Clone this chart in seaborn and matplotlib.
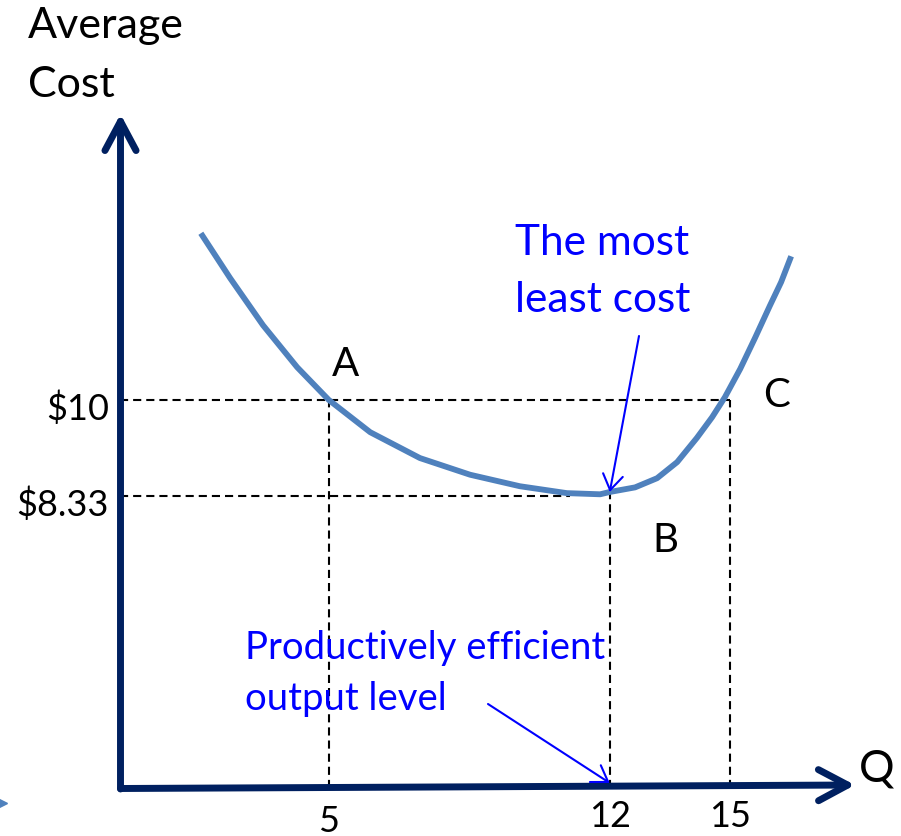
import matplotlib
matplotlib.use("Agg")
import matplotlib.pyplot as plt
import seaborn as sns
import pandas as pd
from matplotlib.transforms import ScaledTranslation

# ---------------- data ----------------
quantity = [1.81, 2.54, 3.36, 4.21, 5.0, 6.03, 7.27, 8.52, 9.76, 10.93, 11.76, 12.0,
            12.63, 13.18, 13.68, 14.17, 14.55, 14.87, 15.25, 15.62, 15.99, 16.27, 16.52]
avg_cost = [12.90, 12.12, 11.30, 10.57, 10.0, 9.44, 8.99, 8.70, 8.50, 8.38, 8.36, 8.40,
            8.48, 8.64, 8.92, 9.34, 9.70, 10.05, 10.54, 11.08, 11.64, 12.05, 12.50]
q_ticks = [5, 12, 15]
q_tick_labels = ["5", "12", "15"]
cost_ticks = [10, 8.33]
cost_tick_labels = [r"\$10", r"\$8.33"]
point_labels = ["A", "B", "C"]
efficient_q = 12
efficient_cost = 8.40
guide_8_33_end_q = 11

# ---------------- style ----------------
sns.set_style("white")
plt.rcParams["font.family"] = ["Lato", "DejaVu Sans"]

NAVY = "#002060"
CURVE = "#4F81BD"
BLUE = "#0000FF"

W, H = 901, 837
fig = plt.figure(figsize=(W / 100, H / 100), dpi=100)
AX_L, AX_B = 120, 789  # pixel position of the axes corner (from top-left)
ax = fig.add_axes([AX_L / W, (H - AX_B) / H, (W - AX_L) / W, AX_B / H])
ax.patch.set_alpha(0)

# scale: pixels per unit
PXQ, Q0_PX = 40.13, 128.2
PXC, C10_PY = 57.49, 401
ax.set_xlim((AX_L - Q0_PX) / PXQ, (W - Q0_PX) / PXQ)
ax.set_ylim(10 - (AX_B - C10_PY) / PXC, 10 + C10_PY / PXC)
for s in ax.spines.values():
    s.set_visible(False)

xmin = ax.get_xlim()[0]
ymin = ax.get_ylim()[0]

# ---------------- curve ----------------
df = pd.DataFrame({"Q": quantity, "AC": avg_cost})
sns.lineplot(data=df, x="Q", y="AC", ax=ax, color=CURVE, lw=4.2, zorder=3,
             solid_capstyle="butt", solid_joinstyle="round")
ax.set_xlabel("")
ax.set_ylabel("")

# ---------------- dashed guides ----------------
dash = dict(color="black", lw=1.5, ls=(0, (3.9, 2.4)), zorder=2)
ax.plot([xmin, q_ticks[2]], [cost_ticks[0], cost_ticks[0]], **dash)
ax.plot([xmin, guide_8_33_end_q], [cost_ticks[1], cost_ticks[1]], **dash)
ax.plot([q_ticks[0], q_ticks[0]], [ymin, cost_ticks[0]], **dash)
ax.plot([q_ticks[2], q_ticks[2]], [ymin, cost_ticks[0]], **dash)
ax.plot([q_ticks[1], q_ticks[1]], [ymin, efficient_cost], **dash)

# ---------------- ticks ----------------
ax.set_xticks(q_ticks, labels=q_tick_labels)
ax.set_yticks(cost_ticks, labels=cost_tick_labels)
ax.tick_params(axis="both", length=0, labelsize=26, labelcolor="black")
ax.tick_params(axis="x", pad=8)
ax.tick_params(axis="y", pad=8)
for lab in ax.get_yticklabels():
    lab.set_transform(lab.get_transform() + ScaledTranslation(0, -0.05, fig.dpi_scale_trans))
xl = ax.get_xticklabels()
xl[0].set_transform(xl[0].get_transform() + ScaledTranslation(0, -0.045, fig.dpi_scale_trans))

# ---------------- axis arrows ----------------
axis_arrow = dict(arrowstyle="->,head_length=1.05,head_width=0.56", color=NAVY,
                  lw=5, shrinkA=0, shrinkB=0, mutation_scale=20,
                  capstyle="round", joinstyle="round")
ax.annotate("", xy=(120.5, H - 115), xycoords="figure pixels",
            xytext=(120.5, H - 790), textcoords="figure pixels",
            arrowprops=axis_arrow, zorder=4, annotation_clip=False)
ax.annotate("", xy=(855, H - 786), xycoords="figure pixels",
            xytext=(120.5, H - 789.5), textcoords="figure pixels",
            arrowprops=axis_arrow, zorder=4, annotation_clip=False)

# ---------------- blue annotation arrows ----------------
blue_arrow = dict(arrowstyle="->,head_length=1.1,head_width=0.72", color=BLUE,
                  lw=1.5, shrinkA=0, shrinkB=0, mutation_scale=10)
ax.annotate("", xy=(efficient_q, efficient_cost), xycoords="data",
            xytext=(639, H - 337), textcoords="figure pixels",
            arrowprops=blue_arrow, zorder=5, annotation_clip=False)
ax.annotate("", xy=(efficient_q, H - 784), xycoords=("data", "figure pixels"),
            xytext=(488, H - 705), textcoords="figure pixels",
            arrowprops=blue_arrow, zorder=5, annotation_clip=False)

# ---------------- texts ----------------
def ftext(px, py, s, **kw):
    fig.text(px / W, 1 - py / H, s, **kw)

ftext(28, 38, "Average", fontsize=31, va="baseline", ha="left", color="black")
ftext(28, 97, "Cost", fontsize=31, va="baseline", ha="left", color="black")
ftext(515, 255, "The most", fontsize=30.5, va="baseline", ha="left", color=BLUE)
ftext(515, 312, "least cost", fontsize=30.5, va="baseline", ha="left", color=BLUE)
ftext(245, 659, "Productively efficient", fontsize=27.5, va="baseline", ha="left", color=BLUE)
ftext(245, 710, "output level", fontsize=27.5, va="baseline", ha="left", color=BLUE)
ftext(345, 376, point_labels[0], fontsize=29, va="baseline", ha="center", color="black")
ftext(665, 552, point_labels[1], fontsize=29, va="baseline", ha="center", color="black")
ftext(777, 407, point_labels[2], fontsize=29, va="baseline", ha="center", color="black")
ftext(877, 782, "Q", fontsize=32, va="baseline", ha="center", color="black")

# small decorative marker at lower-left edge
fig.add_artist(plt.Line2D([2 / W], [1 - 804 / H], marker=">", ms=7.5,
                          color=CURVE, transform=fig.transFigure, lw=0))

fig.savefig("out.png", dpi=100)
